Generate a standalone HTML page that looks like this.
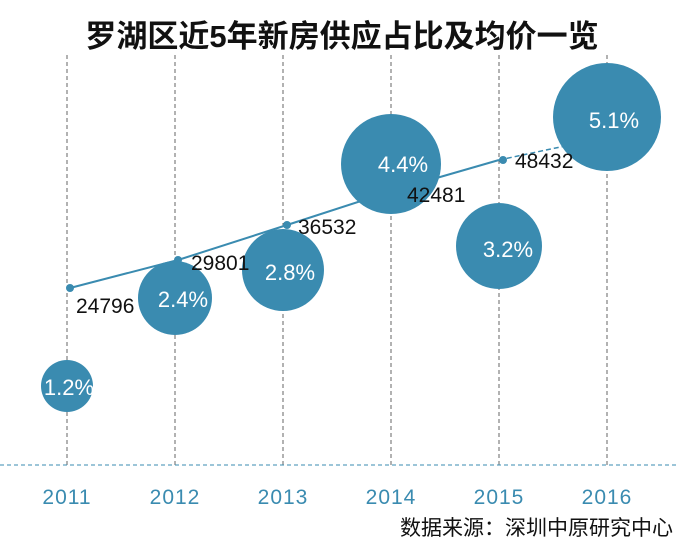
<!DOCTYPE html>
<html><head><meta charset="utf-8"><style>
body{margin:0;background:#fff;width:678px;height:546px;overflow:hidden}
</style></head><body>
<svg width="678" height="546" xmlns="http://www.w3.org/2000/svg" font-family="Liberation Sans, Noto Sans CJK SC, sans-serif">
<text x="342" y="47" text-anchor="middle" font-size="31" font-weight="bold" fill="#111">罗湖区近5年新房供应占比及均价一览</text>
<g stroke="#666" stroke-width="1" stroke-dasharray="4,3">
<line x1="67" y1="55" x2="67" y2="465"/><line x1="175" y1="55" x2="175" y2="465"/><line x1="283" y1="55" x2="283" y2="465"/><line x1="391" y1="55" x2="391" y2="465"/><line x1="499" y1="55" x2="499" y2="465"/><line x1="607" y1="55" x2="607" y2="465"/>
</g>
<line x1="0" y1="465" x2="678" y2="465" stroke="#3a8bb0" stroke-width="1" stroke-dasharray="4,3"/>
<polyline points="70,288 178,260 287,225 395,190 499,160" fill="none" stroke="#3a8bb0" stroke-width="2"/>
<line x1="499" y1="160" x2="565" y2="146" stroke="#3a8bb0" stroke-width="1.5" stroke-dasharray="5,3"/>
<g fill="#3a8bb0"><circle cx="70" cy="288" r="4"/><circle cx="178" cy="260" r="4"/><circle cx="287" cy="225" r="4"/><circle cx="503" cy="160" r="4"/></g>
<g fill="#3a8bb0">
<circle cx="67" cy="386" r="26"/><circle cx="175" cy="298" r="37"/><circle cx="283" cy="270" r="41"/><circle cx="391" cy="164" r="50"/><circle cx="499" cy="246" r="43"/><circle cx="607" cy="117" r="54"/>
</g>
<g fill="#fff" font-size="22" text-anchor="middle">
<text x="69" y="395">1.2%</text><text x="183" y="307">2.4%</text><text x="290" y="280">2.8%</text><text x="403" y="172">4.4%</text><text x="508" y="257">3.2%</text><text x="614" y="128">5.1%</text>
</g>
<g fill="#111" font-size="21">
<text x="76" y="313">24796</text><text x="191" y="270">29801</text><text x="298" y="234">36532</text><text x="407" y="202">42481</text><text x="515" y="168">48432</text>
</g>
<g fill="#3a8bb0" font-size="21" text-anchor="middle" letter-spacing="1">
<text x="67" y="504">2011</text><text x="175" y="504">2012</text><text x="283" y="504">2013</text><text x="391" y="504">2014</text><text x="499" y="504">2015</text><text x="607" y="504">2016</text>
</g>
<text x="673" y="535" text-anchor="end" font-size="21" fill="#111">数据来源：深圳中原研究中心</text>
</svg>
</body></html>
